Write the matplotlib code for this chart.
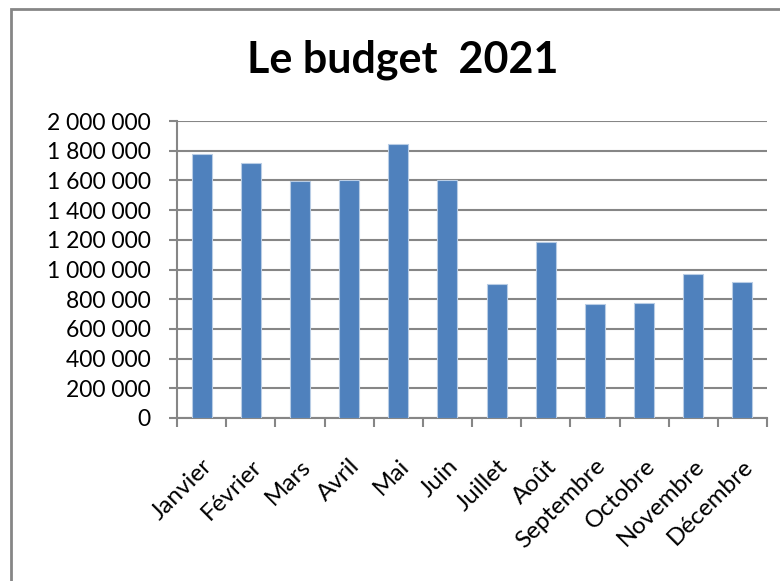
import numpy as np
import matplotlib.pyplot as plt
from matplotlib.ticker import FuncFormatter
from matplotlib.patches import Rectangle

# Monthly budget, 2021
mois = ['Janvier', 'Février', 'Mars', 'Avril', 'Mai', 'Juin', 'Juillet',
        'Août', 'Septembre', 'Octobre', 'Novembre', 'Décembre']
budget = [1775000, 1715000, 1596000, 1600000, 1842000, 1602000, 900000,
          1182000, 769000, 775000, 968000, 915000]

plt.rcParams['font.family'] = ['Lato', 'DejaVu Sans']

BLEU = '#4F81BD'
GRIS = '#868686'


def espaces(v, pos=None):
    return '{:,.0f}'.format(v).replace(',', ' ')


def main():
    fig = plt.figure(figsize=(7.8, 5.81), dpi=100)

    # outer chart frame (runs off the right and bottom edges)
    fig.patches.append(Rectangle((11 / 780, -0.05), 1.0, 1 - 9 / 581 + 0.05,
                                 transform=fig.transFigure, fill=False,
                                 edgecolor=GRIS, linewidth=2.0))

    ax = fig.add_axes([177 / 780, 1 - 418 / 581, (767 - 177) / 780, (418 - 121) / 581])
    x = np.arange(len(mois))
    ax.bar(x, budget, width=0.41, color=BLEU, edgecolor='#B9CDE5',
           linewidth=0.8, zorder=3)

    ax.set_xlim(-0.5, len(mois) - 0.5)
    ax.set_ylim(0, 2000000)
    ax.set_yticks(np.arange(0, 2000001, 200000))
    ax.yaxis.set_major_formatter(FuncFormatter(espaces))
    ax.grid(axis='y', color=GRIS, linewidth=1.5, zorder=0)

    # category boundaries carry the tick marks, labels sit at the centres
    ax.set_xticks(np.arange(-0.5, len(mois), 1.0))
    ax.set_xticklabels([])
    ax.set_xticks(x, minor=True)
    ax.set_xticklabels(mois, minor=True, rotation=45, ha='right',
                       rotation_mode='anchor', fontsize=17.5)
    ax.tick_params(axis='x', which='minor', length=0, pad=27)
    ax.tick_params(axis='x', which='major', length=6.5, width=1.5, color=GRIS)
    ax.tick_params(axis='y', length=6, width=1.5, color=GRIS, labelsize=16.5, pad=13)

    for side in ['top', 'right']:
        ax.spines[side].set_visible(False)
    for side in ['left', 'bottom']:
        ax.spines[side].set_color(GRIS)
        ax.spines[side].set_linewidth(1.5)

    fig.text(403 / 780, 1 - 60 / 581, 'Le budget  2021', ha='center', va='center',
             fontsize=31, fontweight='bold')

    fig.savefig('out.png', dpi=100)


if __name__ == "__main__":
    main()
